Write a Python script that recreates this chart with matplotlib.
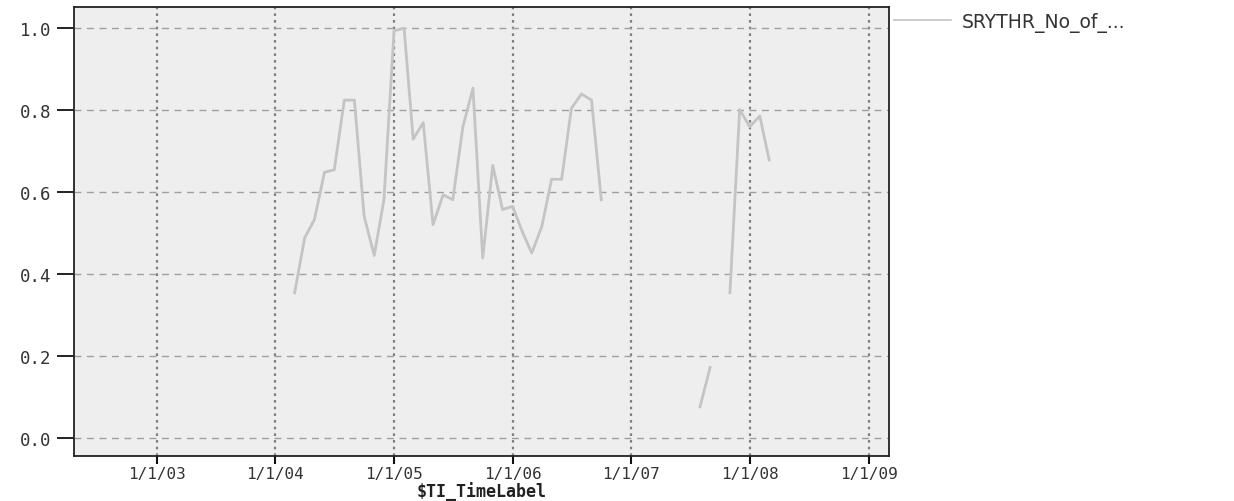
import numpy as np
import pandas as pd
import matplotlib
matplotlib.use("Agg")
import matplotlib.pyplot as plt

# monthly values (NaN = no data)
dates = pd.date_range("2004-03-01", "2008-03-01", freq="MS")
values = [
    0.353, 0.487, 0.532, 0.647, 0.653, 0.823, 0.823, 0.540, 0.444, 0.580,  # Mar-Dec 2004
    0.992, 0.998, 0.728, 0.768, 0.519, 0.592, 0.580, 0.758, 0.852, 0.438, 0.664, 0.556,  # 2005
    0.564, 0.500, 0.450, 0.515, 0.630, 0.630, 0.803, 0.838, 0.823, 0.580, np.nan, np.nan,  # 2006
    np.nan, np.nan, np.nan, np.nan, np.nan, np.nan, np.nan, 0.075, 0.171, np.nan, 0.353, 0.800,  # 2007
    0.758, 0.784, 0.677,  # Jan-Mar 2008
]
series_name = "SRYTHR_No_of_..."
tick_years = [2003, 2004, 2005, 2006, 2007, 2008, 2009]
tick_labels = ["1/1/%02d" % (y % 100) for y in tick_years]
y_ticks = [0.0, 0.2, 0.4, 0.6, 0.8, 1.0]

mono = "DejaVu Sans Mono"

fig = plt.figure(figsize=(12.34, 5.02), dpi=100)
ax = fig.add_axes([0.060, 0.0896, 0.6605, 0.8944])
ax.set_facecolor("#eeeeee")

ax.plot(dates, values, color="#c4c4c4", linewidth=2, label=series_name, zorder=3)

ax.set_xlim(pd.Timestamp("2002-04-22"), pd.Timestamp("2009-03-05"))
ax.set_ylim(-0.045, 1.05)

ax.set_xticks([pd.Timestamp("%d-01-01" % y) for y in tick_years])
ax.set_xticklabels(tick_labels, family=mono, fontsize=11.5)
ax.set_yticks(y_ticks)
ax.set_yticklabels(["%.1f" % v for v in y_ticks], family=mono, fontsize=12.5)

ax.tick_params(axis="x", direction="out", length=6, width=1.5, pad=1,
               colors="#111111", labelcolor="#333333")
ax.tick_params(axis="y", direction="out", length=12, width=1.3, pad=4,
               colors="#111111", labelcolor="#333333")
ax.grid(axis="y", linestyle=(0, (5, 4)), color="#a0a0a0", linewidth=1)
ax.grid(axis="x", linestyle=(0, (1.2, 1.8)), color="#808080", linewidth=1.6)
for s in ax.spines.values():
    s.set_linewidth(1.3)
    s.set_color("#222222")

ax.set_xlabel(r"\$TI_TimeLabel", family=mono, fontsize=12, fontweight="bold",
              color="#222222", labelpad=0)

leg = ax.legend(loc="upper left", bbox_to_anchor=(1.002, 0.998), frameon=False,
                handlelength=3.0, handletextpad=0.6, borderaxespad=0, borderpad=0.2,
                prop={"family": "DejaVu Sans", "size": 13.5})
for t in leg.get_texts():
    t.set_color("#333333")
for line in leg.get_lines():
    line.set_linewidth(1.2)

fig.savefig("out.png", dpi=100)
